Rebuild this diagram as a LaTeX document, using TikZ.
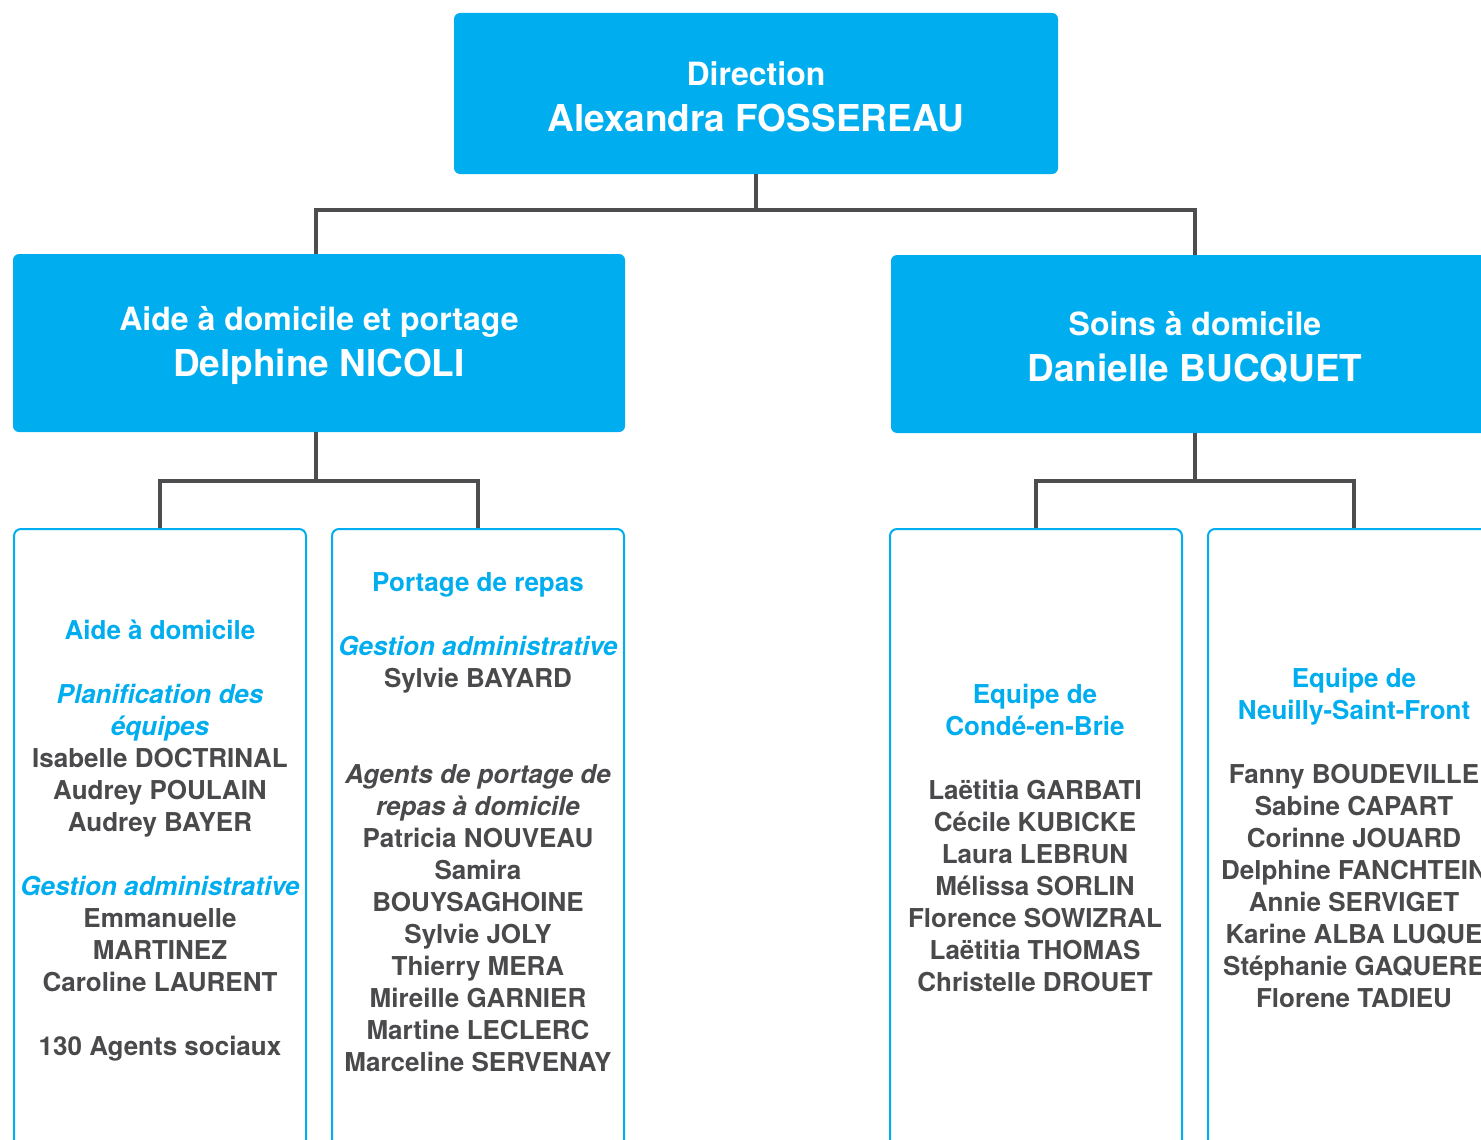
\documentclass[tikz,border=0pt]{standalone}
\usepackage{fontspec}
\setmainfont{TeX Gyre Heros}
\usepackage{xcolor}
\definecolor{boxblue}{HTML}{00AEEF}
\definecolor{textgray}{HTML}{4A4A4C}
\definecolor{linegray}{HTML}{4D4D4F}
\newcommand{\teamtitle}[1]{\textcolor{boxblue}{#1}}
\newcommand{\roletitle}[1]{\textcolor{boxblue}{\itshape #1}}
\newcommand{\headstrut}{\rule{0pt}{30pt}}

\begin{document}
\begin{tikzpicture}[x=1pt,y=-1pt,
    head node/.style={rectangle,rounded corners=6pt,fill=boxblue,text=white,inner sep=0pt,align=center,font=\bfseries\fontsize{32}{46}\selectfont},
    team node/.style={rectangle,rounded corners=7pt,draw=boxblue,line width=2pt,fill=white,anchor=north,minimum width=292pt,minimum height=660pt},
    list node/.style={anchor=base,align=center,text=textgray,inner sep=0pt,font=\bfseries\fontsize{26}{32}\selectfont},
    link/.style={draw=linegray,line width=4pt}]
    \useasboundingbox (0,0) rectangle (1481,1140);
    \clip (0,0) rectangle (1481,1140);

    \node[head node,minimum width=604pt,minimum height=161pt] (dir) at (756,93.5) {\headstrut Direction\\{\fontsize{37}{46}\selectfont Alexandra FOSSEREAU}};
    \node[head node,minimum width=612pt,minimum height=178pt] (adp) at (319,343) {\headstrut Aide à domicile et portage\\{\fontsize{37}{46}\selectfont Delphine NICOLI}};
    \node[head node,minimum width=608pt,minimum height=178pt] (sad) at (1195,344) {\headstrut Soins à domicile\\{\fontsize{37}{46}\selectfont Danielle BUCQUET}};

    \node[team node] (aide) at (160,528) {};
    \node[team node] (portage) at (478,528) {};
    \node[team node] (conde) at (1036,528) {};
    \node[team node] (neuilly) at (1354,528) {};

    \draw[link] (dir.south) -- ++(0,36) -| ([xshift=-3pt]adp.north);
    \draw[link] (dir.south) -- ++(0,36) -| (sad.north);
    \draw[link] ([xshift=-3pt]adp.south) -- ++(0,49) -| (aide.north);
    \draw[link] ([xshift=-3pt]adp.south) -- ++(0,49) -| (portage.north);
    \draw[link] (sad.south) -- ++(0,48) -| (conde.north);
    \draw[link] (sad.south) -- ++(0,48) -| (neuilly.north);

    % base = last line of each list
    \node[list node] (aidetxt) at (160,1055) {\teamtitle{Aide à domicile}\\[32pt]
        \roletitle{Planification des}\\\roletitle{équipes}\\
        Isabelle DOCTRINAL\\Audrey POULAIN\\Audrey BAYER\\[32pt]
        \roletitle{Gestion administrative}\\Emmanuelle\\MARTINEZ\\Caroline LAURENT\\[32pt]
        130 Agents sociaux};
    \node[list node] (portagetxt) at (478,1071) {\teamtitle{Portage de repas}\\[32pt]
        \roletitle{Gestion administrative}\\Sylvie BAYARD\\[64pt]
        {\itshape Agents de portage de}\\{\itshape repas à domicile}\\
        Patricia NOUVEAU\\Samira\\BOUYSAGHOINE\\Sylvie JOLY\\Thierry MERA\\
        Mireille GARNIER\\Martine LECLERC\\Marceline SERVENAY};
    \node[list node] (condetxt) at (1035,991) {\teamtitle{Equipe de}\\\teamtitle{Condé-en-Brie}\\[32pt]
        Laëtitia GARBATI\\Cécile KUBICKE\\Laura LEBRUN\\Mélissa SORLIN\\
        Florence SOWIZRAL\\Laëtitia THOMAS\\Christelle DROUET};
    \node[list node] (neuillytxt) at (1354,1007) {\teamtitle{Equipe de}\\\teamtitle{Neuilly-Saint-Front}\\[32pt]
        Fanny BOUDEVILLE\\Sabine CAPART\\Corinne JOUARD\\Delphine FANCHTEIN\\
        Annie SERVIGET\\Karine ALBA LUQUE\\Stéphanie GAQUERE\\Florene TADIEU};
\end{tikzpicture}
\end{document}
